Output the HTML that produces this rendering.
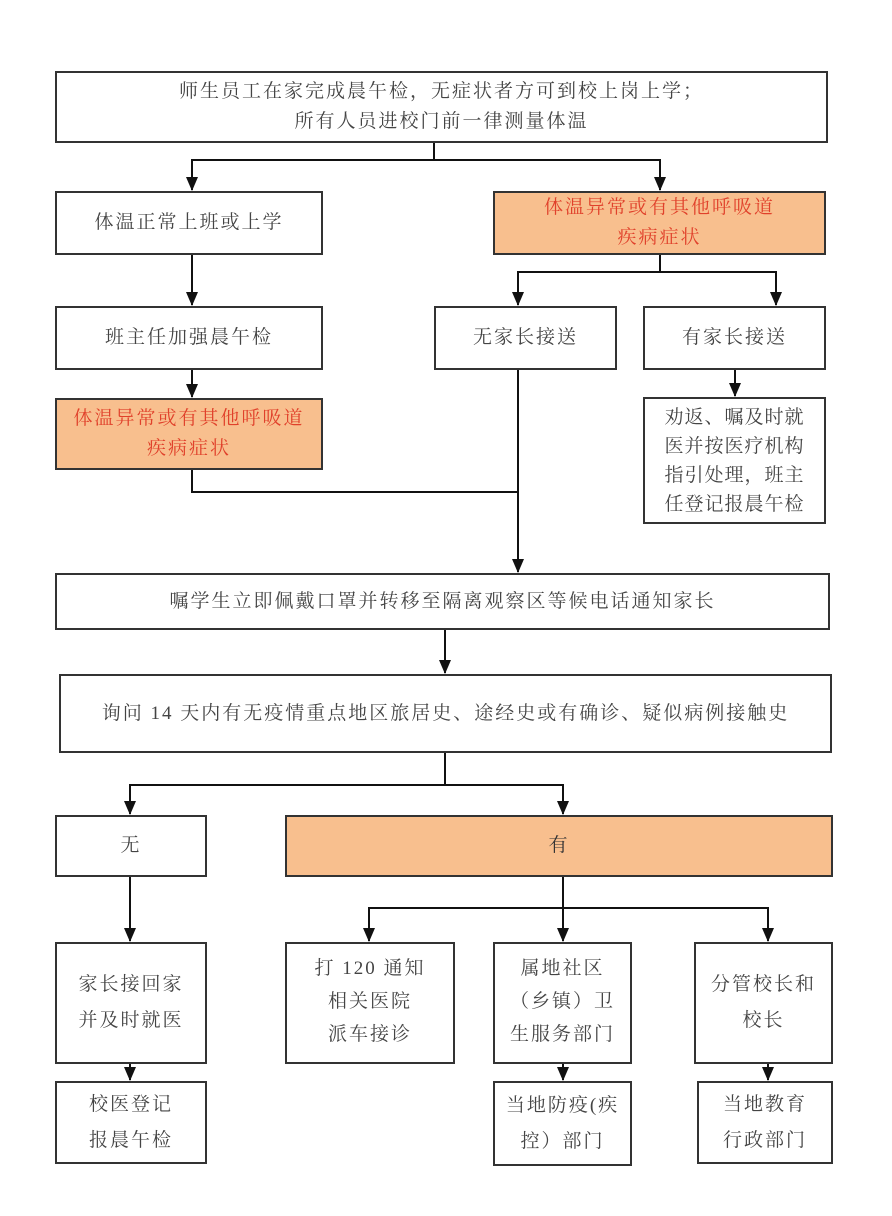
<!DOCTYPE html>
<html><head><meta charset="utf-8"><style>
body{margin:0;background:#fff;}
.wrap{position:relative;width:892px;height:1216px;overflow:hidden;font-family:"Liberation Serif","Noto Serif CJK SC",serif;}
.b{position:absolute;box-sizing:border-box;border:2px solid #333;background:#fff;display:flex;align-items:center;justify-content:center;text-align:center;color:#444;font-size:19px;line-height:36px;letter-spacing:2px;}
.o{background:#f8bf8e;color:#e0412b;}
svg{position:absolute;left:0;top:0;}
</style></head><body><div class="wrap">
<svg width="892" height="1216">
<g stroke="#111" stroke-width="2" fill="none">
<path d="M434,143 V160 H192 V190"/>
<path d="M434,160 H660 V190"/>
<path d="M192,255 V305"/>
<path d="M660,255 V272 H518 V305"/>
<path d="M660,272 H776 V305"/>
<path d="M192,370 V397"/>
<path d="M735,370 V396"/>
<path d="M518,370 V572"/>
<path d="M192,470 V492 H518"/>
<path d="M445,630 V673"/>
<path d="M445,753 V785 H130 V814"/>
<path d="M445,785 H563 V814"/>
<path d="M130,877 V941"/>
<path d="M563,877 V941"/>
<path d="M369,941 V908 H768 V941"/>
<path d="M130,1064 V1080"/>
<path d="M563,1064 V1080"/>
<path d="M768,1064 V1080"/>
</g>
<g fill="#111">
<polygon points="186,177 198,177 192,191"/>
<polygon points="654,177 666,177 660,191"/>
<polygon points="186,292 198,292 192,306"/>
<polygon points="512,292 524,292 518,306"/>
<polygon points="770,292 782,292 776,306"/>
<polygon points="186,384 198,384 192,398"/>
<polygon points="729,383 741,383 735,397"/>
<polygon points="512,559 524,559 518,573"/>
<polygon points="439,660 451,660 445,674"/>
<polygon points="124,801 136,801 130,815"/>
<polygon points="557,801 569,801 563,815"/>
<polygon points="124,928 136,928 130,942"/>
<polygon points="363,928 375,928 369,942"/>
<polygon points="557,928 569,928 563,942"/>
<polygon points="762,928 774,928 768,942"/>
<polygon points="124,1067 136,1067 130,1081"/>
<polygon points="557,1067 569,1067 563,1081"/>
<polygon points="762,1067 774,1067 768,1081"/>
</g></svg>
<div class="b" style="left:55px;top:71px;width:773px;height:72px;line-height:30px;">师生员工在家完成晨午检，无症状者方可到校上岗上学；<br>所有人员进校门前一律测量体温</div>
<div class="b" style="left:55px;top:191px;width:268px;height:64px;">体温正常上班或上学</div>
<div class="b o" style="left:493px;top:191px;width:333px;height:64px;line-height:30px;">体温异常或有其他呼吸道<br>疾病症状</div>
<div class="b" style="left:55px;top:306px;width:268px;height:64px;">班主任加强晨午检</div>
<div class="b" style="left:434px;top:306px;width:183px;height:64px;">无家长接送</div>
<div class="b" style="left:643px;top:306px;width:183px;height:64px;">有家长接送</div>
<div class="b o" style="left:55px;top:398px;width:268px;height:72px;line-height:30px;">体温异常或有其他呼吸道<br>疾病症状</div>
<div class="b" style="left:643px;top:397px;width:183px;height:127px;line-height:29px;letter-spacing:1px;">劝返、嘱及时就<br>医并按医疗机构<br>指引处理，班主<br>任登记报晨午检</div>
<div class="b" style="left:55px;top:573px;width:775px;height:57px;">嘱学生立即佩戴口罩并转移至隔离观察区等候电话通知家长</div>
<div class="b" style="left:59px;top:674px;width:773px;height:79px;">询问 14 天内有无疫情重点地区旅居史、途经史或有确诊、疑似病例接触史</div>
<div class="b" style="left:55px;top:815px;width:152px;height:62px;">无</div>
<div class="b o" style="left:285px;top:815px;width:548px;height:62px;color:#333;">有</div>
<div class="b" style="left:55px;top:942px;width:152px;height:122px;">家长接回家<br>并及时就医</div>
<div class="b" style="left:285px;top:942px;width:170px;height:122px;line-height:33px;align-items:flex-start;padding-top:8px;">打 120 通知<br>相关医院<br>派车接诊</div>
<div class="b" style="left:493px;top:942px;width:139px;height:122px;line-height:33px;align-items:flex-start;padding-top:8px;">属地社区<br>（乡镇）卫<br>生服务部门</div>
<div class="b" style="left:694px;top:942px;width:139px;height:122px;">分管校长和<br>校长</div>
<div class="b" style="left:55px;top:1081px;width:152px;height:83px;">校医登记<br>报晨午检</div>
<div class="b" style="left:493px;top:1081px;width:139px;height:85px;">当地防疫(疾<br>控）部门</div>
<div class="b" style="left:697px;top:1081px;width:136px;height:83px;">当地教育<br>行政部门</div>
</div></body></html>
